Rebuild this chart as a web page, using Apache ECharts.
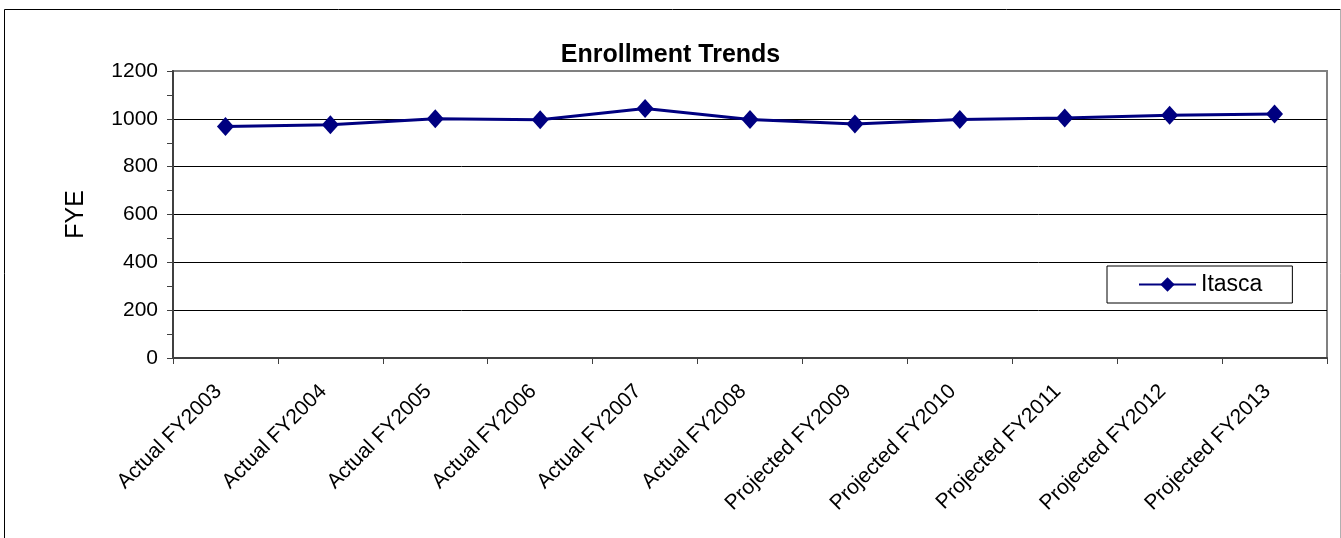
<!DOCTYPE html>
<html>
<head>
<meta charset="utf-8">
<script src="https://cdn.jsdelivr.net/npm/echarts@6/dist/echarts.min.js"></script>
<style>
html,body{margin:0;padding:0;background:#fff;}
#c{width:1341px;height:538px;}
</style>
</head>
<body>
<div id="c"></div>
<script>
const categories = ["Actual FY2003","Actual FY2004","Actual FY2005","Actual FY2006","Actual FY2007","Actual FY2008","Projected FY2009","Projected FY2010","Projected FY2011","Projected FY2012","Projected FY2013"];
const itasca = [968, 975, 1000, 996, 1043, 997, 978, 997, 1003, 1015, 1020];
const yTicks = [0, 200, 400, 600, 800, 1000, 1200];

const chart = echarts.init(document.getElementById('c'));
const font = 'Arial, "Liberation Sans", sans-serif';
chart.setOption({
  animation: false,
  backgroundColor: '#fff',
  title: {
    text: 'Enrollment Trends',
    left: 'center',
    top: 38,
    textStyle: {fontFamily: font, fontSize: 25, fontWeight: 'bold', color: '#000'}
  },
  graphic: [
    {type: 'line', shape: {x1: 4.5, y1: 9.5, x2: 4.5, y2: 538}, style: {stroke: '#000', lineWidth: 1}},
    {type: 'line', shape: {x1: 4.5, y1: 9.5, x2: 1340.5, y2: 9.5}, style: {stroke: '#000', lineWidth: 1}},
    {type: 'line', shape: {x1: 1340.5, y1: 9.5, x2: 1340.5, y2: 538}, style: {stroke: '#b0b0b0', lineWidth: 1}}
  ],
  legend: {
    data: ['Itasca'],
    left: 1107,
    top: 266,
    orient: 'vertical',
    borderColor: '#000',
    borderWidth: 1,
    borderRadius: 0,
    padding: [7, 30, 7, 31],
    itemWidth: 57,
    itemHeight: 18,
    textStyle: {fontFamily: font, fontSize: 23, color: '#000', padding: [0,0,0,0]}
  },
  grid: {
    left: 173, top: 71, right: 14, bottom: 180,
    show: true, borderColor: '#808080', borderWidth: 2, backgroundColor: '#fff'
  },
  xAxis: {
    type: 'category',
    data: categories,
    boundaryGap: true,
    axisLine: {lineStyle: {color: '#404040', width: 2}},
    axisTick: {show: true, interval: 0, length: 6, lineStyle: {color: '#404040', width: 1}},
    axisLabel: {interval: 0, rotate: 45, margin: 23, padding: [0, 10, 0, 0], fontFamily: font, fontSize: 21, color: '#000'}
  },
  yAxis: {
    type: 'value',
    min: 0, max: 1200, interval: 200,
    name: 'FYE',
    nameLocation: 'middle',
    nameRotate: 90,
    nameGap: 84,
    nameTextStyle: {fontFamily: font, fontSize: 25, color: '#000'},
    axisLine: {show: true, lineStyle: {color: '#404040', width: 2}},
    axisTick: {show: true, length: 6, lineStyle: {color: '#404040', width: 1}},
    minorTick: {show: true, splitNumber: 2, length: 6, lineStyle: {color: '#404040', width: 1}},
    axisLabel: {margin: 15, fontFamily: font, fontSize: 21, color: '#000',
      formatter: v => yTicks.includes(v) ? String(v) : ''},
    splitLine: {show: true, lineStyle: {color: ['#000','#000','#000','#000','#000','#000','#808080'], width: 1}}
  },
  series: [{
    name: 'Itasca',
    type: 'line',
    data: itasca,
    symbol: 'diamond',
    symbolSize: [17, 19],
    lineStyle: {color: '#000080', width: 3},
    itemStyle: {color: '#000080'}
  }]
});
</script>
</body>
</html>
